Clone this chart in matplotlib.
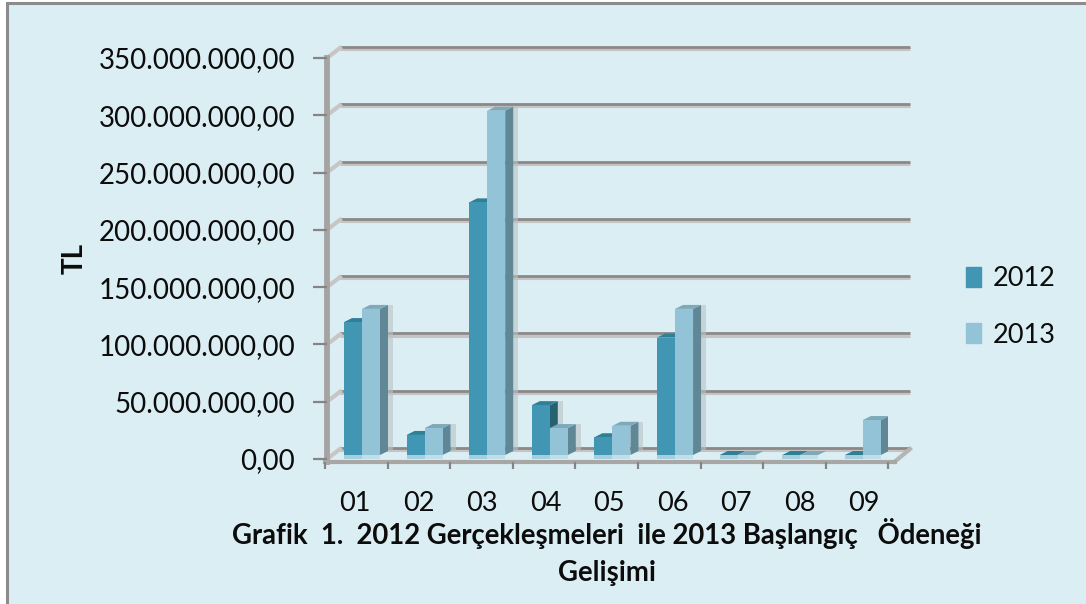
import matplotlib
matplotlib.use('Agg')
import matplotlib.pyplot as plt
from matplotlib.patches import Polygon, Patch, Rectangle
from matplotlib.ticker import FuncFormatter

categories = ['01', '02', '03', '04', '05', '06', '07', '08', '09']
values_2012 = [119.5, 21, 224, 47, 19, 106, 2, 2.5, 1]
values_2013 = [131, 27, 304, 27, 29, 131, 2, 1, 34]
y_ticks = [0, 50, 100, 150, 200, 250, 300, 350]
title = 'Grafik  1.  2012 Gerçekleşmeleri  ile 2013 Başlangıç   Ödeneği\nGelişimi'

W, H = 1086, 604
BG = '#DBEEF4'
plt.rcParams['font.family'] = ['Lato', 'DejaVu Sans']

fig = plt.figure(figsize=(W / 100, H / 100), dpi=100, facecolor='white')
fig.add_artist(Rectangle((6.5 / W, -0.01), 1.1, (H - 3) / H + 0.01, transform=fig.transFigure,
                         facecolor=BG, edgecolor='#8c8c8c', linewidth=2.2, zorder=-1))

# axes box is the front plane of the fake 3d chart
left, right, top, bottom = 325, 888.5, 58, 459
ax = fig.add_axes([left / W, 1 - bottom / H, (right - left) / W, (bottom - top) / H])
ax.set_facecolor('none')
ax.set_xlim(0, 9)
ax.set_ylim(0, 350)

px = 9 / (right - left)
py = 350 / (bottom - top)

# back wall grid lines
for v in y_ticks:
    yb = v + 10 * py
    ax.plot([15 * px, 585 * px], [yb - 1.2 * py, yb - 1.2 * py], color='#c4c4c4', lw=2.2,
            clip_on=False, zorder=1, solid_capstyle='butt')
    ax.plot([15 * px, 585 * px], [yb + 1.0 * py, yb + 1.0 * py], color='#8c8888', lw=2.0,
            clip_on=False, zorder=1.1, solid_capstyle='butt')
    ax.plot([2 * px, 15 * px], [v, yb], color='#c9c5c3', lw=3, clip_on=False, zorder=1.2)
ax.plot([570 * px, 585 * px], [-2.5 * py, 10 * py], color='#b5b5b5', lw=3, clip_on=False, zorder=1.2)

# bars: front face plus side, top, shadow and the pale floor reflection
bar_w = 18 * px
start = 19 * px
base = 4 * py
sx = 8 * px
sy = 4 * py
series = [
    (values_2012, 0, '#4197B3', '#2F7F96', '#25626F'),
    (values_2013, 1, '#93C3D6', '#7FA9B8', '#5F8795'),
]
for vals, j, c_front, c_top, c_side in series:
    for i, v in enumerate(vals):
        x0 = i + start + j * bar_w
        x1 = x0 + bar_w
        t = max(v, base)
        ax.add_patch(Polygon([(x1 + sx, base + sy), (x1 + sx + 5 * px, base + sy),
                              (x1 + sx + 5 * px, t + sy), (x1 + sx, t + sy)],
                             facecolor='#b9c1c4', alpha=0.6, edgecolor='none', zorder=2))
        ax.add_patch(Polygon([(x1, base), (x1 + sx, base + sy), (x1 + sx, t + sy), (x1, t)],
                             facecolor=c_side, edgecolor='none', zorder=3 + j * 0.1))
        ax.add_patch(Polygon([(x0, t), (x1, t), (x1 + sx, t + sy), (x0 + sx, t + sy)],
                             facecolor=c_top, edgecolor='none', zorder=3 + j * 0.1))
        ax.add_patch(Rectangle((x0, 0), bar_w, base, facecolor=c_front, alpha=0.35,
                               edgecolor='none', zorder=3.5))
        ax.bar(x0, t - base, bar_w, bottom=base, align='edge', color=c_front, zorder=3.5 + j * 0.1)

# axes and ticks
for s in ('top', 'right'):
    ax.spines[s].set_visible(False)
ax.spines['left'].set_position(('data', 2 * px))
ax.spines['left'].set_color('#a6a3a3')
ax.spines['left'].set_linewidth(4.2)
ax.spines['left'].set_bounds(-3 * py, 350)
ax.spines['bottom'].set_position(('data', -2.5 * py))
ax.spines['bottom'].set_color('#a9a6a6')
ax.spines['bottom'].set_linewidth(3)
ax.spines['bottom'].set_bounds(0, 570 * px)
ax.set_axisbelow(False)

ax.set_yticks(y_ticks)
ax.yaxis.set_major_formatter(FuncFormatter(lambda v, p: f'{int(v)}.000.000,00' if v else '0,00'))
ax.tick_params(axis='y', length=10, width=1.6, color='#858585', pad=13, labelsize=19.9, labelcolor='#0c0c0c')
ax.set_xticks(range(10))
ax.set_xticklabels([])
ax.set_xticks([0.48 + i * 1.015 for i in range(9)], categories, minor=True)
ax.tick_params(axis='x', which='major', length=5, width=1.6, color='#858585')
ax.tick_params(axis='x', which='minor', length=0, pad=21, labelsize=19.5, labelcolor='#0c0c0c')

ax.set_xlabel(title, fontsize=19.8, fontweight='bold', labelpad=2, linespacing=1.52, color='#0c0c0c')
ax.set_ylabel('TL', fontsize=20, fontweight='bold', labelpad=8, color='#0c0c0c')

handles = [Patch(color='#4197B3'), Patch(color='#93C3D6')]
fig.legend(handles, ['2012', '2013'], loc='center left', bbox_to_anchor=(942 / W, 1 - 307 / H),
           frameon=False, fontsize=19.5, handlelength=0.55, handleheight=0.72, handletextpad=0.42,
           labelspacing=1.15, labelcolor='#0c0c0c')

fig.savefig('out.png', dpi=100, facecolor='white')
